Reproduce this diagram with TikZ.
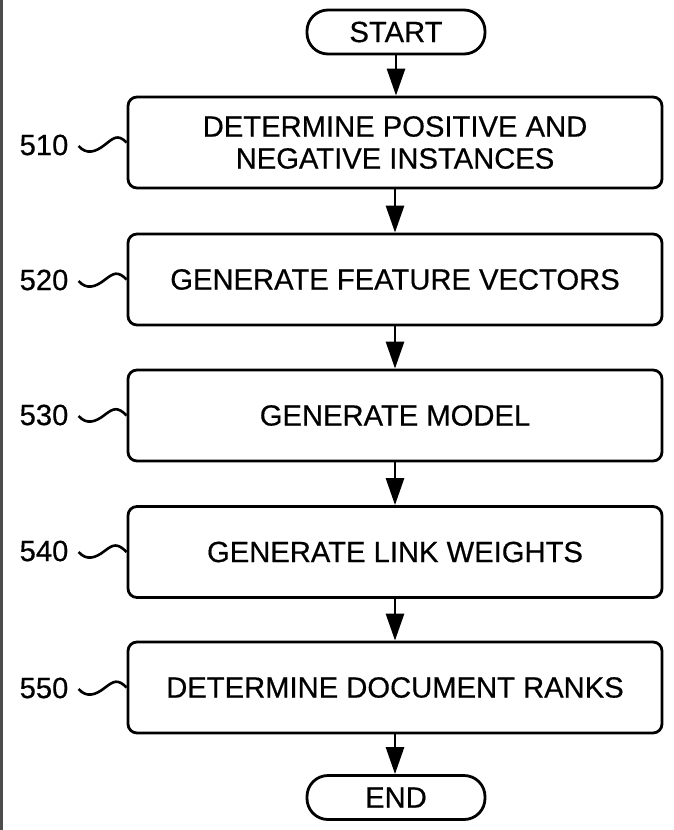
\documentclass[tikz,border=0pt]{standalone}
\usepackage{fontspec}
\setmainfont[FakeBold=0.5]{Liberation Sans}
\usetikzlibrary{arrows.meta}
\begin{document}
\begin{tikzpicture}[x=1pt,y=-1pt,
  every node/.style={font=\fontsize{29.2}{32}\selectfont},
  stepbox/.style={draw,line width=2.8pt,rounded corners=9pt,minimum width=534pt,minimum height=91pt,align=center,inner sep=0pt},
  termbox/.style={draw,line width=2.8pt,rounded corners=21pt,minimum width=178pt,minimum height=44pt,inner sep=0pt},
  reflabel/.style={inner sep=0pt,anchor=center},
  flow/.style={line width=2.8pt,-{Triangle[length=27pt,width=18pt]}},
  squig/.style={line width=2.6pt}]
\useasboundingbox (0,0) rectangle (674,830);
\fill[black!70] (0,0) rectangle (3,830);
\node[termbox] (start) at (396,32) {START};
\node[stepbox] (b510) at (395,142.5) {DETERMINE POSITIVE AND\\NEGATIVE INSTANCES};
\node[stepbox] (b520) at (395,279.5) {GENERATE FEATURE VECTORS};
\node[stepbox] (b530) at (395,415.5) {GENERATE MODEL};
\node[stepbox] (b540) at (395,552) {GENERATE LINK WEIGHTS};
\node[stepbox] (b550) at (395,687.5) {DETERMINE DOCUMENT RANKS};
\node[termbox] (end) at (396,797.5) {END};
\node[reflabel] (l510) at (44,145) {510};
\node[reflabel] (l520) at (44,280) {520};
\node[reflabel] (l530) at (44,415) {530};
\node[reflabel] (l540) at (44,551) {540};
\node[reflabel] (l550) at (44,688) {550};
\foreach \a/\b in {start/b510,b510/b520,b520/b530,b530/b540,b540/b550,b550/end}
  \draw[flow] (\a.south) -- (\a.south |- \b.north);
\foreach \n in {510,520,530,540,550}
  \draw[squig] ([xshift=10pt,yshift=-1pt]l\n.east) .. controls +(8,9) and +(-9,7) .. ++(26,-1)
     .. controls +(9,-7) and +(-9,-9) .. (b\n.west);
\end{tikzpicture}
\end{document}
